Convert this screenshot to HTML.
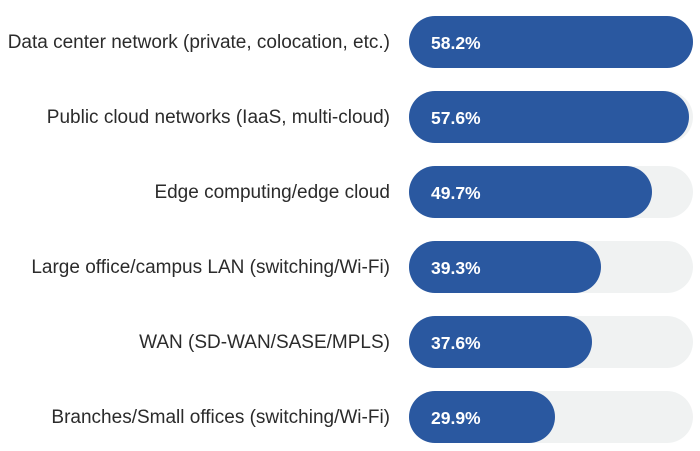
<!DOCTYPE html>
<html><head><style>
body{margin:0;width:700px;height:451px;background:#fff;font-family:"Liberation Sans",sans-serif;position:relative;overflow:hidden}
.l{position:absolute;right:310px;width:420px;text-align:right;font-size:19px;color:#2b2b2b;line-height:20px;white-space:nowrap}
.t{position:absolute;left:409px;width:284px;height:52px;border-radius:26px;background:#f0f2f2}
.b{position:absolute;left:0;top:0;height:52px;border-radius:26px;background:#2a58a0;color:#fff;font-weight:bold;font-size:17.5px;line-height:55px;padding-left:22px;box-sizing:border-box}
</style></head><body>
<div class="l" style="top:33px">Data center network (private, colocation, etc.)</div>
<div class="t" style="top:16px"><div class="b" style="width:284px">58.2%</div></div>
<div class="l" style="top:108px">Public cloud networks (IaaS, multi-cloud)</div>
<div class="t" style="top:91px"><div class="b" style="width:280px">57.6%</div></div>
<div class="l" style="top:183px">Edge computing/edge cloud</div>
<div class="t" style="top:166px"><div class="b" style="width:243px">49.7%</div></div>
<div class="l" style="top:258px">Large office/campus LAN (switching/Wi-Fi)</div>
<div class="t" style="top:241px"><div class="b" style="width:192px">39.3%</div></div>
<div class="l" style="top:333px">WAN (SD-WAN/SASE/MPLS)</div>
<div class="t" style="top:316px"><div class="b" style="width:183px">37.6%</div></div>
<div class="l" style="top:408px">Branches/Small offices (switching/Wi-Fi)</div>
<div class="t" style="top:391px"><div class="b" style="width:146px">29.9%</div></div>
</body></html>
